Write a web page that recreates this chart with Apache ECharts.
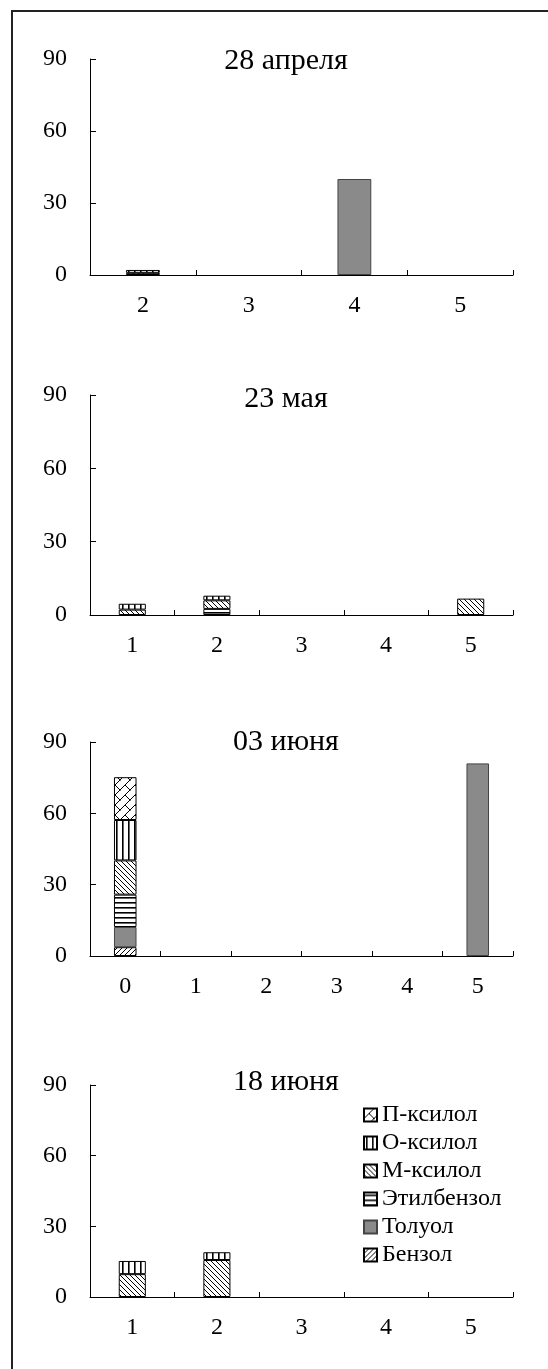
<!DOCTYPE html>
<html>
<head>
<meta charset="utf-8">
<script src="https://cdn.jsdelivr.net/npm/echarts@6/dist/echarts.min.js"></script>
<style>
html,body{margin:0;padding:0;background:#fff;}
#c{width:548px;height:1369px;}
</style>
</head>
<body>
<div id="c"></div>
<script>
// ---- data ----
var seriesNames = ['Бензол', 'Толуол', 'Этилбензол', 'М-ксилол', 'О-ксилол', 'П-ксилол'];
var titles = ['28 апреля', '23 мая', '03 июня', '18 июня'];
var yTicks = [0, 30, 60, 90];

var cats1 = ['2', '3', '4', '5'];
var p1Benzol = [null, null, null, null];
var p1Toluol = [null, null, 40, null];
var p1Etil   = [null, null, null, null];
var p1M      = [0.9, null, null, null];
var p1O      = [1.2, null, null, null];
var p1P      = [null, null, null, null];

var cats2 = ['1', '2', '3', '4', '5'];
var p2Benzol = [null, null, null, null, null];
var p2Toluol = [null, null, null, null, null];
var p2Etil   = [null, 2.5, null, null, null];
var p2M      = [2.2, 3.5, null, null, 6.7];
var p2O      = [2.4, 1.9, null, null, null];
var p2P      = [null, null, null, null, null];

var cats3 = ['0', '1', '2', '3', '4', '5'];
var p3Benzol = [3.7, null, null, null, null, null];
var p3Toluol = [8.5, null, null, null, null, 81];
var p3Etil   = [13.6, null, null, null, null, null];
var p3M      = [14.4, null, null, null, null, null];
var p3O      = [17, null, null, null, null, null];
var p3P      = [18, null, null, null, null, null];

var cats4 = ['1', '2', '3', '4', '5'];
var p4Benzol = [null, null, null, null, null];
var p4Toluol = [null, null, null, null, null];
var p4Etil   = [null, null, null, null, null];
var p4M      = [9.7, 15.7, null, null, null];
var p4O      = [5.6, 3.3, null, null, null];
var p4P      = [null, null, null, null, null];

var panels = [
  {cats: cats1, data: [p1Benzol, p1Toluol, p1Etil, p1M, p1O, p1P]},
  {cats: cats2, data: [p2Benzol, p2Toluol, p2Etil, p2M, p2O, p2P]},
  {cats: cats3, data: [p3Benzol, p3Toluol, p3Etil, p3M, p3O, p3P]},
  {cats: cats4, data: [p4Benzol, p4Toluol, p4Etil, p4M, p4O, p4P]}
];

// ---- layout ----
var gridTops = [59, 395, 742, 1085];
var gridHeights = [216, 220, 214, 212];
var titleY = [61, 399, 742, 1082];
var FONT = 'Liberation Serif';

// ---- patterns ----
function tile(w, h, draw) {
  var c = document.createElement('canvas');
  c.width = w; c.height = h;
  var g = c.getContext('2d');
  g.fillStyle = '#fff'; g.fillRect(0, 0, w, h);
  g.strokeStyle = '#000'; g.fillStyle = '#000';
  draw(g, w, h);
  return {image: c, repeat: 'repeat'};
}
var patBenzol = tile(5, 5, function (g, s) {
  g.lineWidth = 1;
  for (var k = -1; k <= 1; k++) { g.beginPath(); g.moveTo(k * s, s); g.lineTo(k * s + s, 0); g.stroke(); }
});
var patM = tile(5, 5, function (g, s) {
  g.lineWidth = 1;
  for (var k = -1; k <= 1; k++) { g.beginPath(); g.moveTo(k * s, 0); g.lineTo(k * s + s, s); g.stroke(); }
});
var patEtil = tile(6, 5, function (g, w, h) {
  g.fillRect(0, 2, w, 1.6);
});
var patO = tile(6, 6, function (g, w, h) {
  g.fillRect(2, 0, 1.6, h);
});
var patP = tile(10, 10, function (g, s) {
  g.lineWidth = 1;
  for (var k = -1; k <= 1; k++) { g.beginPath(); g.moveTo(k * s, s); g.lineTo(k * s + s, 0); g.stroke(); }
  g.beginPath(); g.moveTo(5, 5); g.lineTo(10, 10); g.stroke();
  g.beginPath(); g.moveTo(0, 0); g.lineTo(0.5, 0.5); g.stroke();
});
var fills = [patBenzol, '#8a8a8a', patEtil, patM, patO, patP];
var borders = ['#000', '#444', '#000', '#000', '#000', '#000'];

var grids = [], xAxes = [], yAxes = [], series = [], graphics = [];
panels.forEach(function (p, i) {
  grids.push({left: 90, right: 35, top: gridTops[i], height: gridHeights[i]});
  xAxes.push({
    type: 'category', gridIndex: i, data: p.cats, boundaryGap: true,
    axisLine: {lineStyle: {color: '#000', width: 1}},
    axisTick: {show: true, inside: true, length: 5, alignWithLabel: false, lineStyle: {color: '#000'}},
    axisLabel: {color: '#000', fontFamily: FONT, fontSize: 24, margin: 19}
  });
  yAxes.push({
    type: 'value', gridIndex: i, min: 0, max: 90, interval: 30,
    axisLine: {show: true, lineStyle: {color: '#000', width: 1}},
    axisTick: {show: true, inside: true, length: 6, lineStyle: {color: '#000'}},
    splitLine: {show: false},
    axisLabel: {color: '#000', fontFamily: FONT, fontSize: 24, margin: 23}
  });
  p.data.forEach(function (d, j) {
    series.push({
      type: 'bar', name: seriesNames[j], xAxisIndex: i, yAxisIndex: i,
      stack: 'p' + i, data: d, barWidth: '32%',
      itemStyle: {color: fills[j], borderColor: borders[j], borderWidth: 1},
      emphasis: {disabled: true}
    });
  });
  graphics.push({
    type: 'text', x: 286, y: titleY[i],
    style: {text: titles[i], fontFamily: FONT, fontSize: 30, fill: '#000', textAlign: 'center', textVerticalAlign: 'middle'}
  });
});
graphics.push({
  type: 'rect', shape: {x: 12, y: 11, width: 580, height: 1420},
  style: {fill: 'none', stroke: '#222', lineWidth: 2}
});

var chart = echarts.init(document.getElementById('c'), null, {renderer: 'canvas'});
chart.setOption({
  animation: false,
  backgroundColor: '#fff',
  textStyle: {fontFamily: FONT},
  grid: grids, xAxis: xAxes, yAxis: yAxes, series: series,
  graphic: graphics,
  legend: {
    orient: 'vertical', left: 363, top: 1103, padding: 0,
    data: seriesNames.slice().reverse(),
    icon: 'rect', itemWidth: 13, itemHeight: 13, itemGap: 4,
    selectedMode: false,
    textStyle: {fontFamily: FONT, fontSize: 24, color: '#000', lineHeight: 24}
  }
});
</script>
</body>
</html>
